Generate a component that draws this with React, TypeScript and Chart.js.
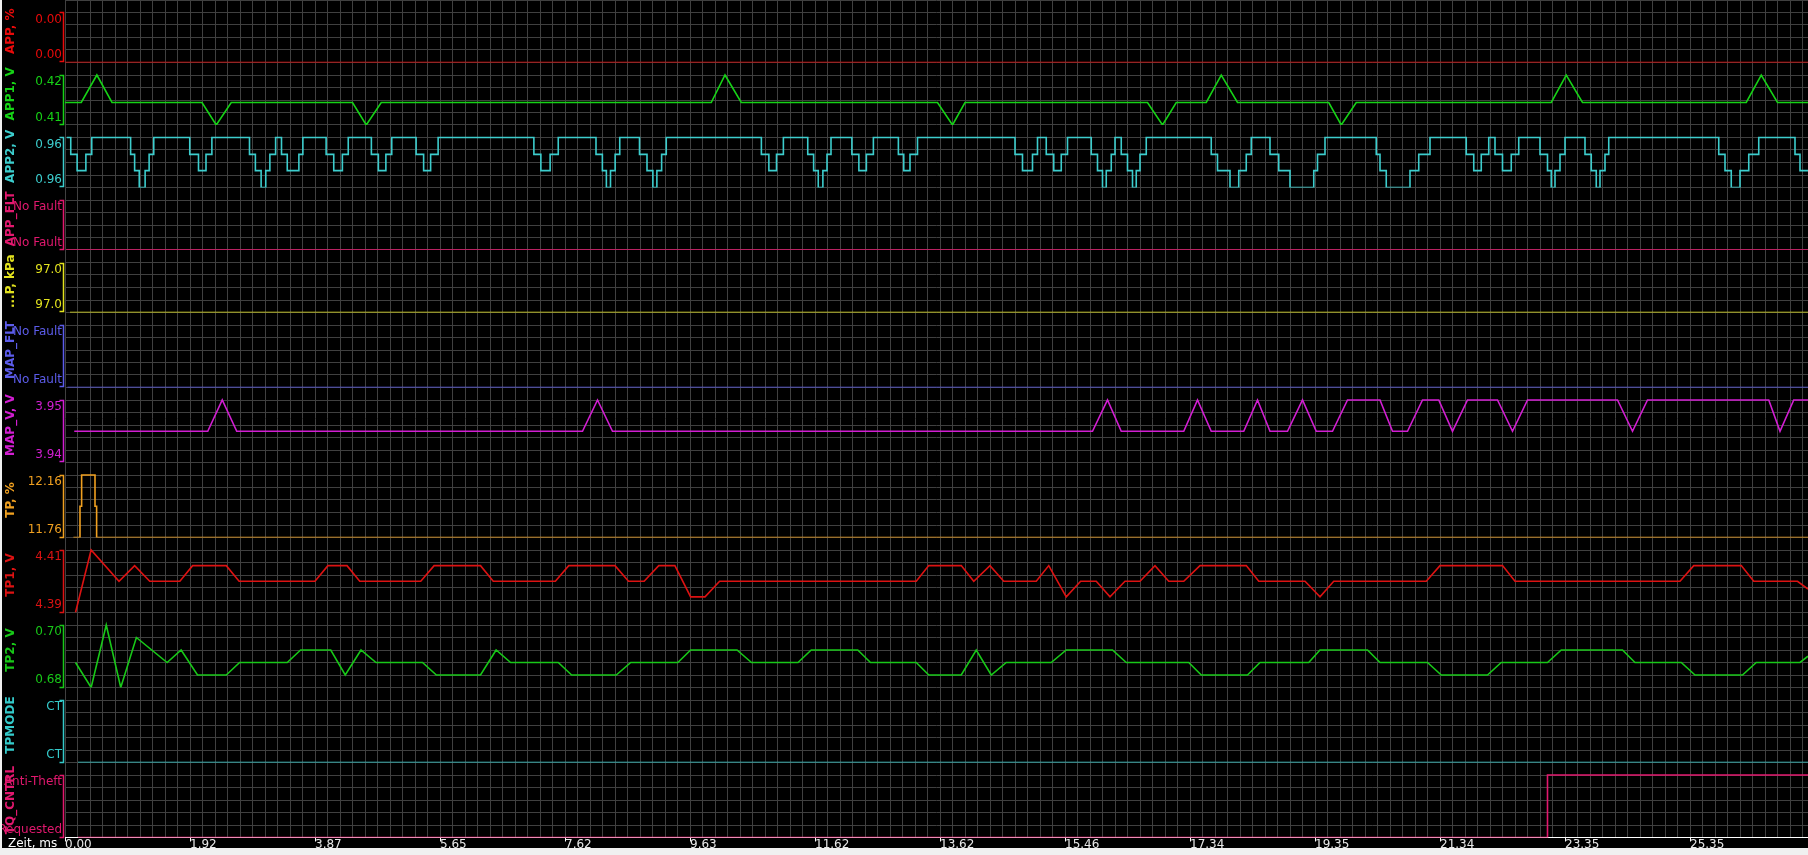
import React, { useEffect, useRef } from 'react';
import { Chart, registerables } from 'chart.js';

Chart.register(...registerables);

const FONT = '"DejaVu Sans", sans-serif';
const GRID = '#404040';

// ---- X axis (sample grid units) ----
const xEnd = 139.44;
const xTickLabels = ['0.00', '1.92', '3.87', '5.65', '7.62', '9.63', '11.62', '13.62', '15.46', '17.34', '19.35', '21.34', '23.35', '25.35'];

// ---- Tick label texts [bottom, top] ----
const appTicks = ['0.00', '0.00'];
const app1Ticks = ['0.41', '0.42'];
const app2Ticks = ['0.96', '0.96'];
const appFltTicks = ['No Fault', 'No Fault'];
const mapPTicks = ['97.0', '97.0'];
const mapFltTicks = ['No Fault', 'No Fault'];
const mapVTicks = ['3.94', '3.95'];
const tpTicks = ['11.76', '12.16'];
const tp1Ticks = ['4.39', '4.41'];
const tp2Ticks = ['0.68', '0.70'];
const tpModeTicks = ['CT', 'CT'];
const tqTicks = ['Requested', 'Anti-Theft'];

// ---- Value ranges [bottom, top] ----
const appRange = [0, 0.004];
const app1Range = [0.41, 0.42];
const app2Range = [0.957, 0.9644];
const appFltRange = [0, 1];
const mapPRange = [97.0, 97.04];
const mapFltRange = [0, 1];
const mapVRange = [3.94, 3.95];
const tpRange = [11.76, 12.16];
const tp1Range = [4.39, 4.41];
const tp2Range = [0.68, 0.7];
const tpModeRange = [0, 1];
const tqRange = [0, 1];

// ---- Series data [x, value] ----
const appData = [[0, 0], [139.44, 0]];

const app1Data = [[0, 0.4145], [1.3, 0.4145], [2.55, 0.42], [3.76, 0.4145], [10.96, 0.4145], [12.1, 0.41], [13.3, 0.4145],
  [23.0, 0.4145], [24.1, 0.41], [25.3, 0.4145], [51.7, 0.4145], [52.8, 0.42], [54.1, 0.4145], [69.8, 0.4145], [71.0, 0.41],
  [72.0, 0.4145], [86.6, 0.4145], [87.8, 0.41], [88.9, 0.4145], [91.3, 0.4145], [92.5, 0.42], [93.8, 0.4145], [101.1, 0.4145],
  [102.1, 0.41], [103.3, 0.4145], [118.9, 0.4145], [120.1, 0.42], [121.4, 0.4145], [134.5, 0.4145], [135.7, 0.42],
  [137.0, 0.4145], [139.44, 0.4145]];

const A0 = 0.957, A1 = 0.9595, A2 = 0.9619, A3 = 0.9644;
const app2Data = [
  [0.14, A3], [0.46, A2], [0.97, A1], [1.67, A2], [2.14, A3],
  [5.25, A2], [5.57, A1], [5.94, A0], [6.41, A1], [6.73, A2], [7.1, A3],
  [9.98, A2], [10.68, A1], [11.28, A2], [11.75, A3],
  [14.76, A2], [15.23, A1], [15.69, A0], [16.06, A1], [16.39, A2], [16.85, A3],
  [17.32, A2], [17.78, A1], [18.71, A2], [19.03, A3],
  [20.89, A2], [21.5, A1], [22.19, A2], [22.66, A3],
  [24.51, A2], [25.07, A1], [25.67, A2], [26.14, A3],
  [28.09, A2], [28.69, A1], [29.25, A2], [29.85, A3],
  [37.51, A2], [38.07, A1], [38.81, A2], [39.46, A3],
  [42.48, A2], [42.99, A1], [43.31, A0], [43.64, A1], [44.01, A2], [44.38, A3],
  [45.96, A2], [46.56, A1], [47.03, A0], [47.35, A1], [47.73, A2], [48.1, A3],
  [55.71, A2], [56.31, A1], [56.92, A2], [57.47, A3],
  [59.42, A2], [59.89, A1], [60.26, A0], [60.63, A1], [60.96, A2], [61.28, A3],
  [62.95, A2], [63.51, A1], [64.11, A2], [64.67, A3],
  [66.67, A2], [67.1, A1], [67.6, A2], [68.2, A3],
  [76.0, A2], [76.6, A1], [77.4, A2], [77.8, A3],
  [78.5, A2], [79.1, A1], [79.7, A2], [80.2, A3],
  [82.1, A2], [82.6, A1], [83.0, A0], [83.3, A1], [83.7, A2], [84.0, A3],
  [84.5, A2], [85.0, A1], [85.4, A0], [85.7, A1], [86.0, A2], [86.5, A3],
  [91.7, A2], [92.2, A1], [93.2, A0], [93.9, A1], [94.5, A2], [94.9, A3],
  [96.4, A2], [97.1, A1], [98.0, A0], [99.9, A1], [100.2, A2], [100.8, A3],
  [104.9, A2], [105.2, A1], [105.7, A0], [107.6, A1], [108.3, A2], [109.2, A3],
  [112.1, A2], [112.7, A1], [113.3, A2], [113.9, A3],
  [114.4, A2], [115.0, A1], [115.7, A2], [116.3, A3],
  [118.0, A2], [118.6, A1], [118.9, A0], [119.2, A1], [119.6, A2], [120.0, A3],
  [121.6, A2], [122.1, A1], [122.5, A0], [122.8, A1], [123.2, A2], [123.5, A3],
  [132.3, A2], [132.8, A1], [133.3, A0], [134.0, A1], [134.7, A2], [135.5, A3],
  [138.4, A2], [138.8, A1], [139.44, A1]];

const appFltData = [[0.1, 0], [139.44, 0]];
const mapPData = [[0.4, 97.0], [139.44, 97.0]];
const mapFltData = [[0.2, 0], [139.44, 0]];

const mapVData = [[0.74, 3.945], [11.42, 3.945], [12.58, 3.95], [13.74, 3.945], [41.4, 3.945], [42.6, 3.95], [43.8, 3.945],
  [82.2, 3.945], [83.4, 3.95], [84.5, 3.945], [89.5, 3.945], [90.6, 3.95], [91.7, 3.945], [94.3, 3.945], [95.4, 3.95],
  [96.4, 3.945], [97.8, 3.945], [99.0, 3.95], [100.1, 3.945], [101.4, 3.945], [102.6, 3.95], [105.2, 3.95], [106.2, 3.945],
  [107.4, 3.945], [108.6, 3.95], [109.9, 3.95], [111.0, 3.945], [112.2, 3.95], [114.6, 3.95], [115.8, 3.945], [117.0, 3.95],
  [124.2, 3.95], [125.4, 3.945], [126.6, 3.95], [136.3, 3.95], [137.2, 3.945], [138.3, 3.95], [139.44, 3.95]];

const tpData = [[0.67, 11.76], [1.2, 11.96], [1.33, 12.16], [2.4, 11.96], [2.53, 11.76], [139.44, 11.76]];

const tp1Data = [[0.84, 4.39], [2.09, 4.41], [4.32, 4.4], [5.57, 4.405], [6.78, 4.4], [9.19, 4.4], [10.21, 4.405], [12.9, 4.405],
  [13.93, 4.4], [20.0, 4.4], [21.03, 4.405], [22.56, 4.405], [23.58, 4.4], [28.46, 4.4], [29.53, 4.405], [33.24, 4.405],
  [34.26, 4.4], [39.23, 4.4], [40.3, 4.405], [44.0, 4.405], [45.08, 4.4], [46.33, 4.4], [47.5, 4.405], [48.79, 4.405],
  [50.05, 4.395], [51.2, 4.395], [52.37, 4.4], [68.1, 4.4], [69.1, 4.405], [71.7, 4.405], [72.7, 4.4], [74.0, 4.405],
  [75.1, 4.4], [77.7, 4.4], [78.7, 4.405], [80.1, 4.395], [81.25, 4.4], [82.5, 4.4], [83.6, 4.395], [84.8, 4.4], [86.0, 4.4],
  [87.2, 4.405], [88.3, 4.4], [89.5, 4.4], [90.8, 4.405], [94.5, 4.405], [95.5, 4.4], [99.2, 4.4], [100.4, 4.395],
  [101.5, 4.4], [108.9, 4.4], [110.0, 4.405], [115.0, 4.405], [116.0, 4.4], [129.2, 4.4], [130.3, 4.405], [134.1, 4.405],
  [135.1, 4.4], [138.6, 4.4], [139.44, 4.3975]];

const tp2Data = [[0.84, 0.688], [2.09, 0.68], [3.3, 0.7], [4.46, 0.68], [5.71, 0.696], [8.17, 0.688], [9.29, 0.692], [10.6, 0.684],
  [12.9, 0.684], [13.97, 0.688], [17.78, 0.688], [18.85, 0.692], [21.26, 0.692], [22.42, 0.684], [23.68, 0.692], [24.88, 0.688],
  [28.6, 0.688], [29.71, 0.684], [33.24, 0.684], [34.49, 0.692], [35.65, 0.688], [39.46, 0.688], [40.53, 0.684], [44.1, 0.684],
  [45.26, 0.688], [49.03, 0.688], [50.05, 0.692], [53.76, 0.692], [54.92, 0.688], [58.64, 0.688], [59.7, 0.692], [63.42, 0.692],
  [64.44, 0.688], [68.1, 0.688], [69.1, 0.684], [71.7, 0.684], [72.9, 0.692], [74.1, 0.684], [75.3, 0.688], [78.9, 0.688],
  [80.1, 0.692], [83.8, 0.692], [84.9, 0.688], [89.9, 0.688], [90.9, 0.684], [94.6, 0.684], [95.6, 0.688], [99.5, 0.688],
  [100.4, 0.692], [104.2, 0.692], [105.2, 0.688], [109.0, 0.688], [110.1, 0.684], [113.8, 0.684], [114.9, 0.688], [118.6, 0.688],
  [119.7, 0.692], [124.6, 0.692], [125.6, 0.688], [129.3, 0.688], [130.4, 0.684], [134.2, 0.684], [135.3, 0.688], [138.8, 0.688],
  [139.44, 0.69]];

const tpModeData = [[1.04, 0], [139.44, 0]];
const tqData = [[1.04, 0], [118.6, 1], [139.44, 1]];

// ---- Channels, top to bottom ----
const channels = [
  { id: 'app', title: 'APP, %', color: '#e80a0a', range: appRange, ticks: appTicks, data: appData, cells: 4, stepped: false },
  { id: 'app1', title: 'APP1, V', color: '#16d216', range: app1Range, ticks: app1Ticks, data: app1Data, cells: 4, stepped: false },
  { id: 'app2', title: 'APP2, V', color: '#3ccdcd', range: app2Range, ticks: app2Ticks, data: app2Data, cells: 4, stepped: true },
  { id: 'appflt', title: 'APP_FLT', color: '#e2186e', range: appFltRange, ticks: appFltTicks, data: appFltData, cells: 4, stepped: false },
  { id: 'mapp', title: '...P, kPa', color: '#e2e21e', range: mapPRange, ticks: mapPTicks, data: mapPData, cells: 4, stepped: false },
  { id: 'mapflt', title: 'MAP_FLT', color: '#5c5cea', range: mapFltRange, ticks: mapFltTicks, data: mapFltData, cells: 5, stepped: false },
  { id: 'mapv', title: 'MAP_V, V', color: '#d21ed2', range: mapVRange, ticks: mapVTicks, data: mapVData, cells: 5, stepped: false },
  { id: 'tp', title: 'TP, %', color: '#f0a020', range: tpRange, ticks: tpTicks, data: tpData, cells: 5, stepped: true },
  { id: 'tp1', title: 'TP1, V', color: '#dc1212', range: tp1Range, ticks: tp1Ticks, data: tp1Data, cells: 5, stepped: false },
  { id: 'tp2', title: 'TP2, V', color: '#18c818', range: tp2Range, ticks: tp2Ticks, data: tp2Data, cells: 5, stepped: false },
  { id: 'tpmode', title: 'TPMODE', color: '#34caca', range: tpModeRange, ticks: tpModeTicks, data: tpModeData, cells: 5, stepped: false },
  { id: 'tq', title: 'TQ_CNTRL', color: '#e2186e', range: tqRange, ticks: tqTicks, data: tqData, cells: 5, stepped: true },
];

const zeroPadding = (s: any) => {
  s.paddingTop = 0;
  s.paddingBottom = 0;
  s.paddingLeft = 0;
  s.paddingRight = 0;
};

const bracketPlugin = {
  id: 'brackets',
  afterDraw(chart: any) {
    const ctx = chart.ctx;
    channels.forEach((c) => {
      const s = chart.scales[c.id];
      if (!s) return;
      const top = Math.round(s.getPixelForValue(c.range[1])) + 0.5;
      const bottom = Math.round(s.getPixelForValue(c.range[0])) - 0.5;
      const x = s.right - 1.5;
      ctx.save();
      ctx.strokeStyle = c.color;
      ctx.lineWidth = 1.5;
      ctx.beginPath();
      ctx.moveTo(x - 4, top);
      ctx.lineTo(x, top);
      ctx.lineTo(x, bottom);
      ctx.lineTo(x - 4, bottom);
      ctx.stroke();
      ctx.restore();
    });
  },
};

export default function App() {
  const ref = useRef<HTMLCanvasElement>(null);

  useEffect(() => {
    document.body.style.margin = '0';
    const canvas = ref.current;
    if (!canvas) return;

    const scales: any = {};
    scales.x = {
      type: 'linear',
      position: 'bottom',
      min: 0,
      max: xEnd,
      afterBuildTicks: (s: any) => {
        const t = [];
        for (let i = 0; i < 140; i++) t.push({ value: i });
        s.ticks = t;
      },
      afterFit: (s: any) => { s.height = 10.5; zeroPadding(s); },
      grid: {
        color: GRID,
        lineWidth: 1,
        drawTicks: true,
        tickLength: 4,
        tickColor: (ctx: any) => (ctx.tick && ctx.tick.value % 10 === 0 ? '#ffffff' : 'rgba(0,0,0,0)'),
      },
      border: { display: true, color: '#ffffff', width: 1 },
      ticks: {
        color: '#e8e8e8',
        font: { family: FONT, size: 12 },
        padding: -4,
        align: 'start',
        autoSkip: false,
        maxRotation: 0,
        minRotation: 0,
        callback: (v: any) => (v % 10 === 0 ? xTickLabels[v / 10] : ''),
      },
    };
    scales.yGrid = {
      type: 'linear',
      position: 'right',
      min: 0,
      max: 67,
      afterBuildTicks: (s: any) => {
        const t = [];
        for (let i = 0; i <= 67; i++) t.push({ value: i });
        s.ticks = t;
      },
      afterFit: (s: any) => { s.width = 0; zeroPadding(s); },
      grid: { color: GRID, lineWidth: 1, drawTicks: false },
      border: { display: false },
      ticks: { display: false },
    };
    for (let i = channels.length - 1; i >= 0; i--) {
      const c = channels[i];
      const span = c.range[1] - c.range[0];
      scales[c.id] = {
        type: 'linear',
        position: 'left',
        stack: 'strips',
        stackWeight: c.cells + 1,
        min: c.range[0],
        max: c.range[1] + span / c.cells,
        afterBuildTicks: (s: any) => { s.ticks = [{ value: c.range[0] }, { value: c.range[1] }]; },
        afterFit: (s: any) => { s.width = 63; zeroPadding(s); },
        grid: { display: false, drawTicks: false },
        border: { display: false },
        ticks: {
          color: c.color,
          font: { family: FONT, size: 12 },
          padding: 3,
          autoSkip: false,
          callback: (_v: any, idx: number) => (idx === 0 ? [c.ticks[0], ''] : ['', c.ticks[1]]),
        },
        title: {
          display: true,
          text: c.title,
          color: c.color,
          font: { family: FONT, size: 12, weight: 'bold' },
          padding: { top: 2, bottom: 0 },
        },
      };
    }

    const datasets = channels.map((c) => ({
      label: c.title,
      data: c.data.map(([x, y]) => ({ x, y })),
      xAxisID: 'x',
      yAxisID: c.id,
      borderColor: c.color,
      backgroundColor: c.color,
      borderWidth: 1.6,
      pointRadius: 0,
      pointHoverRadius: 0,
      tension: 0,
      fill: false,
      stepped: c.stepped ? 'before' : false,
    }));

    const chart = new Chart(canvas, {
      type: 'line',
      data: { datasets } as any,
      options: {
        responsive: false,
        devicePixelRatio: 1,
        animation: false,
        events: [],
        layout: { padding: 0 },
        plugins: { legend: { display: false }, title: { display: false }, tooltip: { enabled: false } },
        scales,
      } as any,
      plugins: [bracketPlugin],
    });
    return () => chart.destroy();
  }, []);

  return (
    <div style={{ position: 'relative', width: 1808, height: 855, background: '#f0f0f0', overflow: 'hidden' }}>
      <canvas
        ref={ref}
        width={1806}
        height={848}
        style={{ position: 'absolute', left: 2, top: 0, width: 1806, height: 848, background: '#000000' }}
      />
      <div
        style={{
          position: 'absolute',
          left: 8,
          top: 837,
          color: '#ffffff',
          fontFamily: FONT,
          fontSize: 12,
          lineHeight: '12px',
          whiteSpace: 'nowrap',
        }}
      >
        Zeit, ms
      </div>
    </div>
  );
}
